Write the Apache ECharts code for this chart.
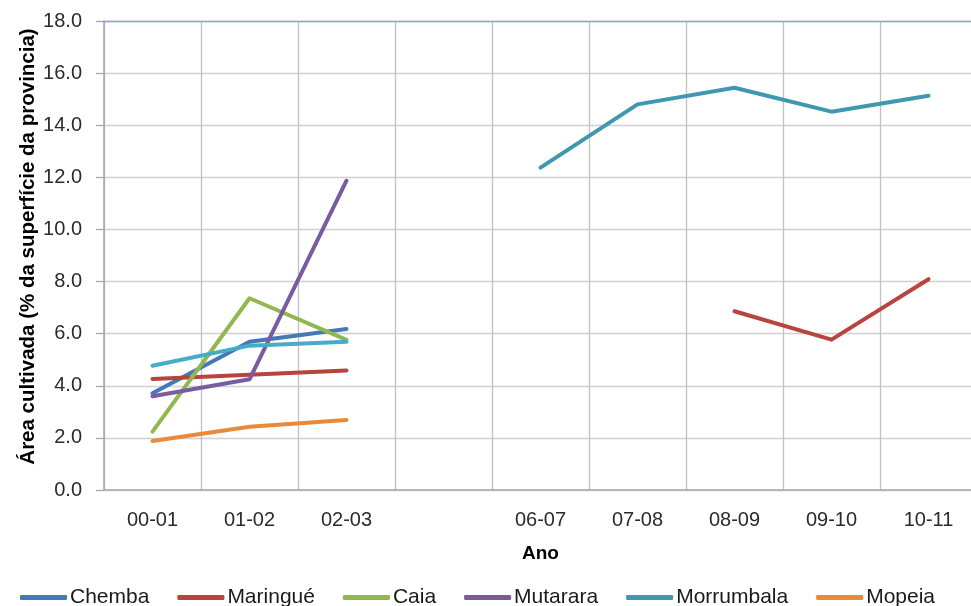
<!DOCTYPE html>
<html>
<head>
<meta charset="utf-8">
<script src="https://cdn.jsdelivr.net/npm/echarts@6/dist/echarts.min.js"></script>
<style>
  html, body { margin: 0; padding: 0; background: #fff; }
  #chart { width: 971px; height: 606px; }
</style>
</head>
<body>
<div id="chart"></div>
<script>
// Agricultural seasons; the blank slot stands for the years with no survey
const years = ['00-01', '01-02', '02-03', '', '06-07', '07-08', '08-09', '09-10', '10-11'];

// Cultivated area, % of province surface (null = no data)
const chemba     = [3.71, 5.69, 6.18, null, null, null, null, null, null];
const maringue   = [4.26, 4.42, 4.59, null, null, null, 6.86, 5.77, 8.09];
const caia       = [2.24, 7.36, 5.76, null, null, null, null, null, null];
const mutarara   = [3.60, 4.25, 11.87, null, null, null, null, null, null];
const morrumbalaEarly = [4.77, 5.54, 5.69, null, null, null, null, null, null];
const morrumbalaLate  = [null, null, null, null, 12.37, 14.80, 15.44, 14.52, 15.13];
const mopeia     = [1.88, 2.43, 2.69, null, null, null, null, null, null];

const yTicks = { min: 0, max: 18, step: 2 };

const FONT = 'Liberation Sans, Arial, sans-serif';

function line(name, data, color) {
  return {
    name: name,
    type: 'line',
    data: data,
    showSymbol: false,
    symbol: 'none',
    connectNulls: false,
    animation: false,
    itemStyle: { color: color },
    lineStyle: { color: color, width: 4, cap: 'round', join: 'round' }
  };
}

const chart = echarts.init(document.getElementById('chart'), null, { renderer: 'canvas' });

chart.setOption({
  backgroundColor: '#ffffff',
  animation: false,
  textStyle: { fontFamily: FONT },
  grid: {
    left: 104, top: 21, width: 873, height: 469,
    containLabel: false,
    outerBoundsMode: 'none'
  },
  legend: {
    data: ['Chemba', 'Maringué', 'Caia', 'Mutarara', 'Morrumbala', 'Mopeia'],
    left: 15,
    top: 582,
    icon: 'roundRect',
    itemWidth: 47,
    itemHeight: 5,
    itemGap: 28,
    textStyle: { fontFamily: FONT, fontSize: 21, color: '#1a1a1a', padding: [0, 0, 0, -2] }
  },
  xAxis: [{
    type: 'category',
    data: years,
    boundaryGap: true,
    name: 'Ano',
    nameLocation: 'middle',
    nameGap: 54,
    nameMoveOverlap: false,
    nameTextStyle: { fontFamily: FONT, fontSize: 19, fontWeight: 'bold', color: '#000' },
    axisLine: { show: true, lineStyle: { color: '#a6a6a6', width: 1.5 } },
    axisTick: { show: false },
    axisLabel: { interval: 0, margin: 20, fontFamily: FONT, fontSize: 20, color: '#2b2b2b' },
    splitLine: { show: true, interval: 0, lineStyle: { color: '#c0c0c0', width: 1.3 } }
  }, {
    type: 'category',
    data: years,
    position: 'top',
    boundaryGap: true,
    axisLine: { show: true, lineStyle: { color: '#88a6d6', width: 1.3 } },
    axisTick: { show: false },
    axisLabel: { show: false },
    splitLine: { show: false }
  }],
  yAxis: {
    type: 'value',
    min: yTicks.min,
    max: yTicks.max,
    interval: yTicks.step,
    name: 'Área cultivada (% da superfície da provincia)',
    nameLocation: 'middle',
    nameGap: 65,
    nameRotate: 90,
    nameMoveOverlap: false,
    nameTextStyle: {
      fontFamily: FONT, fontSize: 20.5, fontWeight: 'bold', color: '#000',
      padding: [0, 0, 0, 18]
    },
    axisLine: { show: true, lineStyle: { color: '#a6a6a6', width: 1.5 } },
    axisTick: { show: true, inside: false, length: 8, lineStyle: { color: '#a6a6a6', width: 1.3 } },
    axisLabel: {
      margin: 22,
      fontFamily: FONT,
      fontSize: 20,
      color: '#2b2b2b',
      formatter: function (v) { return v.toFixed(1); }
    },
    splitLine: { show: true, lineStyle: { color: '#d0d0d0', width: 1.3 } }
  },
  series: [
    line('Chemba', chemba, '#4677b8'),
    line('Maringué', maringue, '#b8433f'),
    line('Caia', caia, '#93b74f'),
    line('Mutarara', mutarara, '#7a5c9e'),
    line('Morrumbala', morrumbalaLate, '#3f98b0'),
    line('Morrumbala', morrumbalaEarly, '#45adc8'),
    line('Mopeia', mopeia, '#e98a3a')
  ]
});
</script>
</body>
</html>
